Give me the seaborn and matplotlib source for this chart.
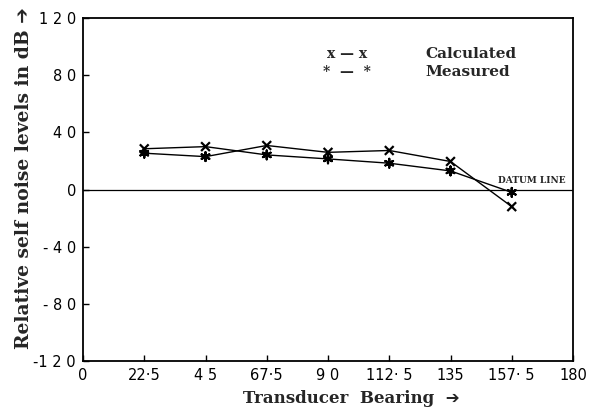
import matplotlib
matplotlib.use("Agg")
import matplotlib.pyplot as plt
import seaborn as sns
import pandas as pd

bearings = [22.5, 45, 67.5, 90, 112.5, 135, 157.5]
calculated = [28.5, 30, 30.8, 26, 27.3, 19.6, -12]
measured = [25.4, 23, 24.2, 21.4, 18.4, 13, -2]
# the hand-drawn traces swap partners between 45 and 67.5 degrees
swap_after = 2
trace_a = calculated[:swap_after] + measured[swap_after:]
trace_b = measured[:swap_after] + calculated[swap_after:]

xticks = [0, 22.5, 45, 67.5, 90, 112.5, 135, 157.5, 180]
xticklabels = ["0", "22·5", "4 5", "67·5", "9 0", "112· 5", "135", "157· 5", "180"]
yticks = [120, 80, 40, 0, -40, -80, -120]
yticklabels = ["1 2 0", "8 0", "4 0", "0", "- 4 0", "- 8 0", "-1 2 0"]

lines_df = pd.DataFrame({
    "bearing": bearings * 2,
    "level": trace_a + trace_b,
    "trace": ["a"] * len(bearings) + ["b"] * len(bearings),
})
pts_df = pd.DataFrame({
    "bearing": bearings * 2,
    "level": calculated + measured,
    "series": ["Calculated"] * len(bearings) + ["Measured"] * len(bearings),
})

sns.set_style("ticks")
fig = plt.figure(figsize=(5.98, 4.09), dpi=100)
ax = fig.add_axes([83 / 598, 1 - 361 / 409, 490 / 598, 343 / 409])

sns.lineplot(data=lines_df, x="bearing", y="level", units="trace", estimator=None,
             color="black", linewidth=1.0, legend=False, ax=ax)
sns.scatterplot(data=pts_df, x="bearing", y="level", style="series",
                markers={"Calculated": "x", "Measured": (6, 2, 0)},
                color="black", s=40, linewidth=1.6, legend=False, ax=ax, zorder=3)

ax.axhline(0, color="black", lw=0.9)
ax.set_xlim(0, 180)
ax.set_ylim(-120, 120)
ax.set_xticks(xticks)
ax.set_xticklabels(xticklabels, fontsize=10.5, family="DejaVu Sans")
ax.set_yticks(yticks)
ax.set_yticklabels(yticklabels, fontsize=10.5, family="DejaVu Sans")
ax.tick_params(direction="in", length=4, width=1, colors="black", pad=5)
for s in ax.spines.values():
    s.set_linewidth(1.3)
    s.set_color("black")

serif = ["DejaVu Serif", "DejaVu Sans"]
ax.set_xlabel("Transducer  Bearing  ➔", fontsize=12, fontweight="bold", family=serif)
ax.xaxis.set_label_coords(0.547, -0.085)
ax.set_ylabel("Relative self noise levels in dB ➔", fontsize=13.5, fontweight="bold",
              family=serif)
ax.yaxis.set_label_coords(-0.102, 0.534)

ax.text(165, 3, "DATUM LINE", fontsize=6.5, fontweight="bold", family=serif, ha="center", va="bottom")
ax.text(97, 95, "x — x", fontsize=10, fontweight="bold", family=serif, ha="center", va="center")
ax.text(97, 82.5, "*  —  *", fontsize=10, fontweight="bold", family=serif, ha="center", va="center")
ax.text(125.6, 95, "Calculated", fontsize=11, fontweight="bold", family=serif, ha="left", va="center")
ax.text(125.6, 82.5, "Measured", fontsize=11, fontweight="bold", family=serif, ha="left", va="center")

fig.savefig("out.png", dpi=100)
